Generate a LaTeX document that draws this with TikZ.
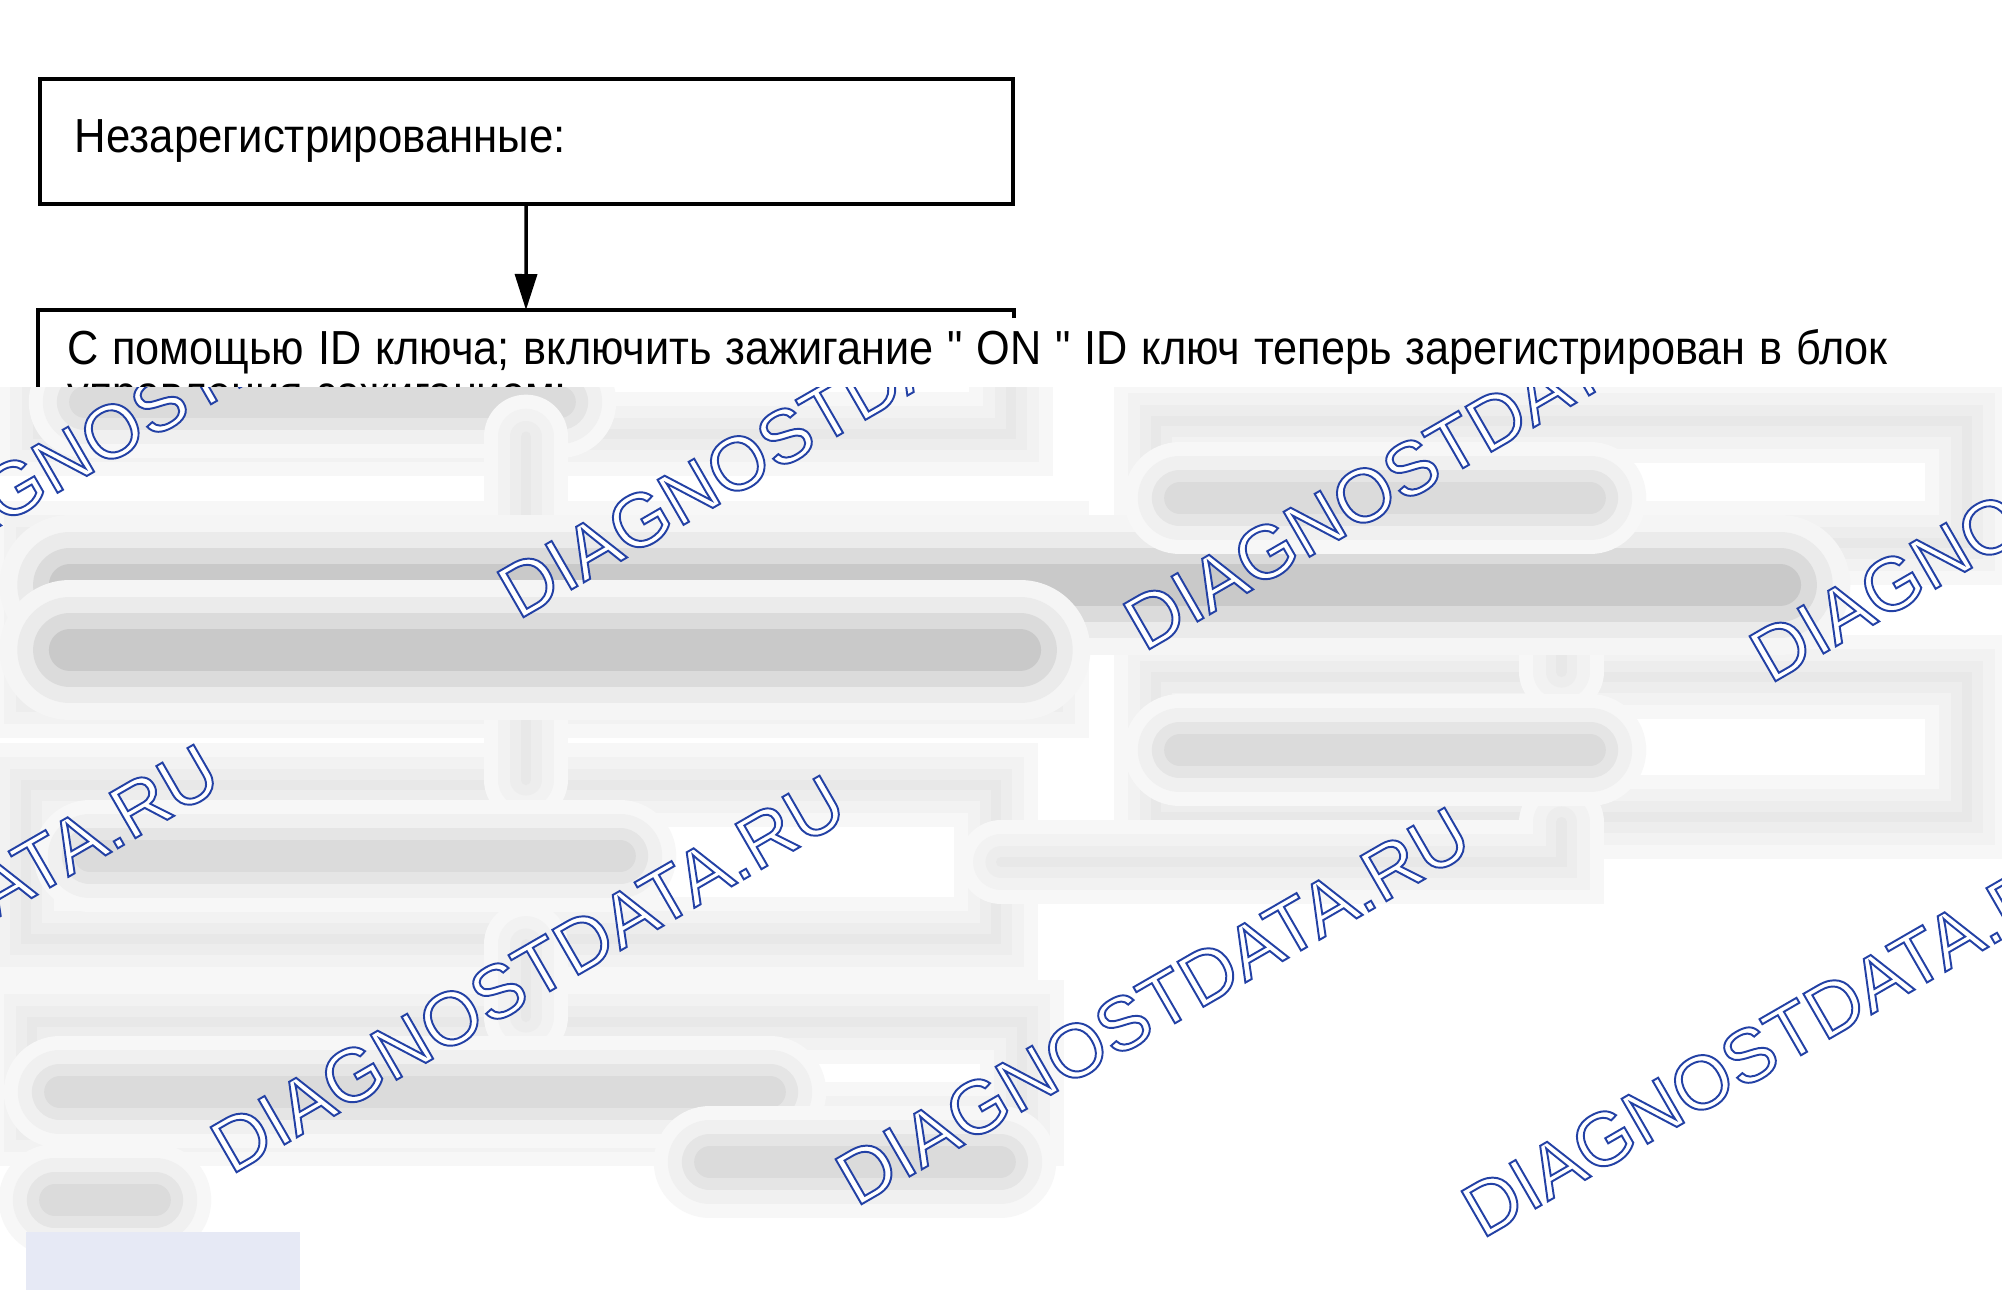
\documentclass[tikz,border=0pt]{standalone}
\usepackage{fontspec}
\setmainfont{Liberation Sans}[FakeStretch=0.915, Ligatures=TeXOff]
\newfontfamily\tightfont{Liberation Sans}[FakeStretch=0.905, Ligatures=TeXOff]
\newfontfamily\wmfont{Liberation Sans}
\usetikzlibrary{positioning, arrows.meta, calc}
\definecolor{wmblue}{HTML}{2341A5}
\definecolor{mist}{HTML}{E6E9F5}
\newcommand{\fixspace}{\spaceskip=1.15\fontdimen2\font\relax}
\newcommand{\outlined}[1]{{\color{white}\special{pdf:literal direct 0.137 0.255 0.647 RG 0.55 w 2 Tr}#1}}

\begin{document}
\begin{tikzpicture}[thick, >={Triangle[length=3.6mm, width=2.2mm]},
    font=\fontsize{13.6}{12}\selectfont,
    main/.style = {draw, line width=1pt, minimum width=97.3mm, inner xsep=3.5mm, text width=90.3mm, align=left, anchor=north west},
    txtline/.style = {fill=white, anchor=base west, inner sep=0.5mm, text width=19.2cm, align=left, font=\tightfont\fontsize{13.6}{12}\selectfont},
    hazebox/.style = {draw=black!9, line width=3pt, preaction={draw=black!3, line width=24pt}, preaction={draw=black!5, line width=16pt}, preaction={draw=black!7, line width=9pt}, minimum width=#1},
    hazeline/.style = {draw=black!9, line width=3pt, line cap=round, preaction={draw=black!3, line width=24pt, line cap=round}, preaction={draw=black!5, line width=16pt, line cap=round}, preaction={draw=black!7, line width=9pt, line cap=round}},
    smudge/.style = {draw=black!14, line width=9pt, line cap=round, preaction={draw=black!3, line width=32pt, line cap=round}, preaction={draw=black!6, line width=24pt, line cap=round}, preaction={draw=black!10, line width=16pt, line cap=round}},
    darksmudge/.style = {draw=black!21, line width=12pt, line cap=round, preaction={draw=black!4, line width=40pt, line cap=round}, preaction={draw=black!8, line width=30pt, line cap=round}, preaction={draw=black!14, line width=21pt, line cap=round}},
    wm/.style = {rotate=30, anchor=base west, inner sep=0pt, font=\wmfont\fontsize{21.5}{24}\selectfont}]
    \useasboundingbox (0,0) rectangle (20.02,-12.9);

    % readable part
    \node[main, minimum height=12.5mm] (unreg) at (0.38,-0.77) {Незарегистрированные:};
    \node[minimum width=97.3mm, minimum height=12.4mm, anchor=north west] (idkey) at (0.38,-3.10) {};
    \draw[line width=1pt] ([yshift=-0.8mm]idkey.north east) -- (idkey.north east) -- (idkey.north west) -- (idkey.south west);
    \node[txtline] (idtxt) at (0.61,-3.64) {\fixspace С помощью ID ключа; включить зажигание " ON " ID ключ теперь зарегистрирован в блок};
    \node[txtline] (idtxt2) at (0.61,-4.09) {\fixspace управления зажиганием:};
    \draw[line width=1pt, ->] (unreg) -- (idkey);

    % blurred part
    \fill[white] (0,-3.87) rectangle (20.02,-12.9);
    \begin{scope}
        \clip (0,-3.87) rectangle (20.02,-12.9);
        \draw[hazeline] (0.38,-3.87) -- (0.38,-4.34) -- (10.11,-4.34) -- (10.11,-3.87);
        \draw[smudge] (0.85,-4.02) -- (5.6,-4.02);

        \node[hazebox=10.15cm, minimum height=15.3mm] (fix) at (5.395,-6.195) {};
        \node[hazebox=9.7cm, minimum height=15.4mm] (check) at (5.11,-8.62) {};
        \node[hazebox=9.9cm, minimum height=10.2mm] (done) at (5.27,-10.73) {};
        \node[hazebox=8.11cm, minimum height=12.2mm] (left1) at (15.615,-4.82) {};
        \node[hazebox=8.11cm, minimum height=14mm] (left2) at (15.615,-7.47) {};

        \draw[hazeline] (idkey.south) -- (idkey.south |- fix.north);
        \draw[hazeline] (idkey.south |- fix.south) -- (idkey.south |- check.north);
        \draw[hazeline] (idkey.south |- check.south) -- (idkey.south |- done.north);
        \draw[hazeline] (left1.south) -- (left2.north);
        \draw[hazeline] (left2.south) |- (check.east);

        \draw[darksmudge] (0.7,-5.85) -- (17.8,-5.85);
        \draw[darksmudge] (0.7,-6.5) -- (10.2,-6.5);
        \draw[smudge] (0.9,-8.56) -- (6.2,-8.56);
        \draw[smudge] (11.8,-4.98) -- (15.9,-4.98);
        \draw[smudge] (11.8,-7.5) -- (15.9,-7.5);
        \draw[smudge] (0.6,-10.92) -- (7.7,-10.92);
        \draw[smudge] (7.1,-11.62) -- (10.0,-11.62);
        \draw[smudge] (0.55,-12.0) -- (1.55,-12.0);
        \fill[mist] (0.26,-12.32) rectangle (3.0,-12.9);

        % watermark
        \foreach \sx/\sy [count=\k] in {-1.09/-5.89, 5.17/-6.21, 11.43/-6.53, 17.69/-6.85,
                                        -3.96/-11.45, 2.30/-11.76, 8.55/-12.08, 14.81/-12.40}
            \node[wm] (wm\k) at (\sx,\sy) {\outlined{DIAGNOSTDATA.RU}};
    \end{scope}
\end{tikzpicture}
\end{document}
